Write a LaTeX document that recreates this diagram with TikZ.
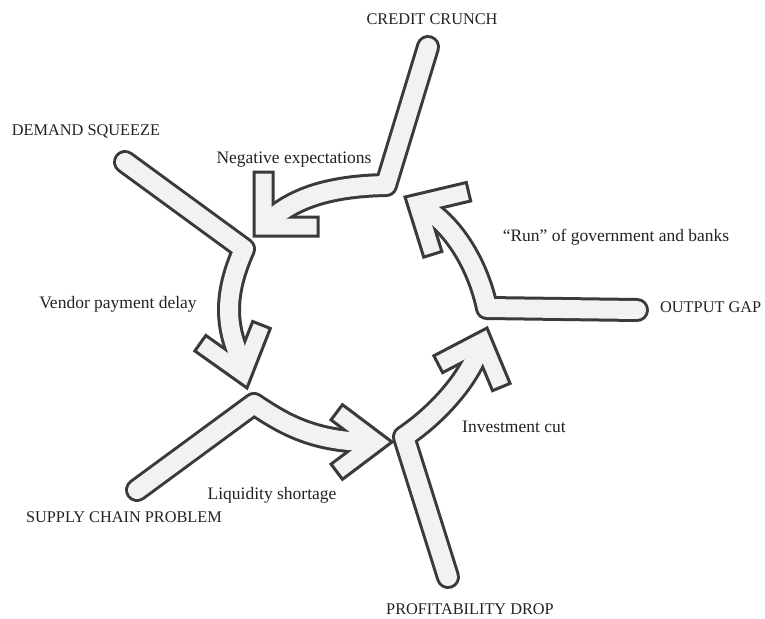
\documentclass[tikz,border=0pt]{standalone}
\usepackage{fontspec}
\setmainfont{Liberation Serif}
\usetikzlibrary{calc}

\definecolor{shaftfill}{HTML}{F1F2F4}
\definecolor{inkline}{HTML}{3A3A3A}
\definecolor{labelink}{HTML}{222222}

\def\armw{19}

\tikzset{
  shaftout/.style={line width=24pt, draw=inkline, line cap=round, line join=round},
  shaftin/.style={line width=18pt, draw=shaftfill, line cap=round, line join=round},
  headshape/.style={fill=shaftfill, draw=inkline, line width=3pt, line join=miter},
  caption/.style={text=labelink, inner sep=0pt},
  stage/.style={caption, font=\fontsize{16.3}{18}\selectfont},
  effect/.style={caption, font=\fontsize{17.5}{19}\selectfont},
}

% chevron head: tip, direction, half opening angle, arm length
\newcommand\chevronhead[4]{%
  \path[headshape]
    (#1)
    -- ($(#1)+({#2+180-#3}:#4)$)
    -- ($(#1)+({#2+180-#3}:#4)+({#2+270-#3}:\armw)$)
    -- ($(#1)+({#2+180}:{\armw/sin(#3)})$)
    -- ($(#1)+({#2+180+#3}:#4)+({#2+90+#3}:\armw)$)
    -- ($(#1)+({#2+180+#3}:#4)$)
    -- cycle;}

\begin{document}
\begin{tikzpicture}[x=1pt, y=-1pt]
\useasboundingbox (0,0) rectangle (765,618);

% labels
\node[stage, anchor=base]  (credit)  at (432,25)  {CREDIT CRUNCH};
\node[stage, anchor=base]  (demand)  at (86,135)  {DEMAND SQUEEZE};
\node[effect, anchor=base] (negexp)  at (294,163) {Negative expectations};
\node[effect, anchor=base] (vendor)  at (118,308) {Vendor payment delay};
\node[effect, anchor=base] (liquid)  at (272,499) {Liquidity shortage};
\node[stage, anchor=base]  (supply)  at (124,522) {SUPPLY CHAIN PROBLEM};
\node[stage, anchor=base]  (profit)  at (470,614) {PROFITABILITY DROP};
\node[stage, anchor=base west]  (outgap) at (660,312) {OUTPUT GAP};
\node[effect, anchor=base] (runbank) at (616,241) {“Run” of government and banks};
\node[effect, anchor=base west] (invest) at (462,432) {Investment cut};

% arrow geometry: start, bend, tip
\coordinate (s1) at (428,47);  \coordinate (b1) at (386,185); \coordinate (t1) at (254,236);
\coordinate (s2) at (125,162); \coordinate (b2) at (244,249); \coordinate (t2) at (247,388);
\coordinate (s3) at (137,490); \coordinate (b3) at (254,404); \coordinate (t3) at (392,442);
\coordinate (s4) at (448,577); \coordinate (b4) at (404,437); \coordinate (t4) at (487,328);
\coordinate (s5) at (637,310); \coordinate (b5) at (487,308); \coordinate (t5) at (405,197);

\coordinate (e1) at ($(t1)+(315:20)$);
\coordinate (e2) at ($(t2)+(253.4:20)$);
\coordinate (e3) at ($(t3)+(180:20)$);
\coordinate (e4) at ($(t4)+(109.9:20)$);
\coordinate (e5) at ($(t5)+(29.7:20)$);

% credit crunch -> negative expectations
\draw[shaftout] (s1) -- (b1) .. controls (335,186) and (295,196) .. (e1);
\chevronhead{t1}{135}{45}{64}
\draw[shaftin]  (s1) -- (b1) .. controls (335,186) and (295,196) .. (e1);

% demand squeeze -> vendor payment delay
\draw[shaftout] (s2) -- (b2) .. controls (228,285) and (224,315) .. (236,348) -- (e2);
\chevronhead{t2}{73.4}{38}{64}
\draw[shaftin]  (s2) -- (b2) .. controls (228,285) and (224,315) .. (236,348) -- (e2);

% supply chain problem -> liquidity shortage
\draw[shaftout] (s3) -- (b3) .. controls (285,425) and (315,442) .. (e3);
\chevronhead{t3}{0}{37}{62}
\draw[shaftin]  (s3) -- (b3) .. controls (285,425) and (315,442) .. (e3);

% profitability drop -> investment cut
\draw[shaftout] (s4) -- (b4) .. controls (432,418) and (466,385) .. (e4);
\chevronhead{t4}{-70.1}{42.5}{60}
\draw[shaftin]  (s4) -- (b4) .. controls (432,418) and (466,385) .. (e4);

% output gap -> run of government and banks
\draw[shaftout] (s5) -- (b5) .. controls (478,265) and (453,224) .. (e5);
\chevronhead{t5}{209.7}{43}{63}
\draw[shaftin]  (s5) -- (b5) .. controls (478,265) and (453,224) .. (e5);

\end{tikzpicture}
\end{document}
